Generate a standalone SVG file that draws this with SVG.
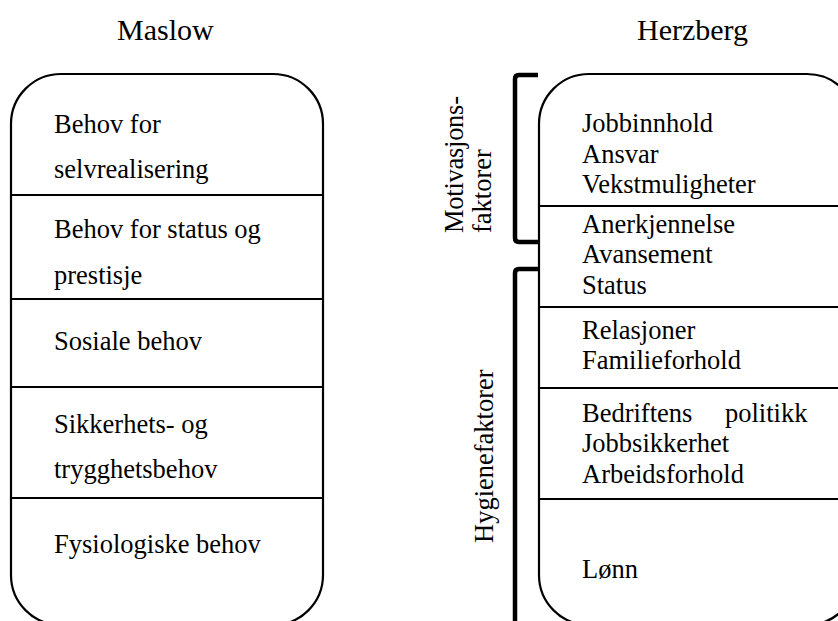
<svg xmlns="http://www.w3.org/2000/svg" width="838" height="621" viewBox="0 0 838 621">
<style>
.t{font-size:26.5px;font-family:'Liberation Serif','Times New Roman',serif}
.h{font-size:30px;font-family:'Liberation Serif','Times New Roman',serif}
.box{fill:#fff;stroke:#000;stroke-width:2.2}
.div{stroke:#000;stroke-width:2.2}
.br{fill:none;stroke:#000;stroke-width:4.5;stroke-linejoin:round}
</style>
<rect width="838" height="621" fill="#fff"/>
<g id="titles">
<text class="h" x="117" y="40">Maslow</text>
<text class="h" x="637" y="40">Herzberg</text>
</g>
<g id="maslow">
<rect class="box" x="11" y="74" width="312" height="551" rx="50" ry="50"/>
<line class="div" x1="11" y1="195" x2="323" y2="195"/>
<line class="div" x1="11" y1="299" x2="323" y2="299"/>
<line class="div" x1="11" y1="387" x2="323" y2="387"/>
<line class="div" x1="11" y1="498" x2="323" y2="498"/>
<g id="m1"><text class="t" x="54" y="133">Behov for</text><text class="t" x="54" y="178">selvrealisering</text></g>
<g id="m2"><text class="t" x="54" y="238">Behov for status og</text><text class="t" x="54" y="284">prestisje</text></g>
<g id="m3"><text class="t" x="54" y="350">Sosiale behov</text></g>
<g id="m4"><text class="t" x="54" y="433">Sikkerhets- og</text><text class="t" x="54" y="478">trygghetsbehov</text></g>
<g id="m5"><text class="t" x="54" y="553">Fysiologiske behov</text></g>
</g>
<g id="herzberg">
<rect class="box" x="539" y="74" width="318" height="551" rx="50" ry="50"/>
<line class="div" x1="539" y1="206" x2="838" y2="206"/>
<line class="div" x1="539" y1="307" x2="838" y2="307"/>
<line class="div" x1="539" y1="388" x2="838" y2="388"/>
<line class="div" x1="539" y1="499" x2="838" y2="499"/>
<g id="h1"><text class="t" x="582" y="132">Jobbinnhold</text><text class="t" x="582" y="163">Ansvar</text><text class="t" x="582" y="193">Vekstmuligheter</text></g>
<g id="h2"><text class="t" x="582" y="233">Anerkjennelse</text><text class="t" x="582" y="263">Avansement</text><text class="t" x="582" y="294">Status</text></g>
<g id="h3"><text class="t" x="582" y="339">Relasjoner</text><text class="t" x="582" y="369">Familieforhold</text></g>
<g id="h4"><text class="t" x="582" y="422">Bedriftens<tspan x="725">politikk</tspan></text><text class="t" x="582" y="452">Jobbsikkerhet</text><text class="t" x="582" y="483">Arbeidsforhold</text></g>
<g id="h5"><text class="t" x="582" y="578">Lønn</text></g>
</g>
<g id="brackets">
<path class="br" d="M538 75 H519 Q515 75 515 79 V238 Q515 242 519 242 H538"/>
<path class="br" d="M538 269 H519 Q515 269 515 273 V625"/>
</g>
<g id="labels">
<text class="t" transform="translate(463,233) rotate(-90)" textLength="137" lengthAdjust="spacing">Motivasjons-</text>
<text class="t" transform="translate(491,233) rotate(-90)">faktorer</text>
<text class="t" transform="translate(493,543) rotate(-90)">Hygienefaktorer</text>
</g>
</svg>
